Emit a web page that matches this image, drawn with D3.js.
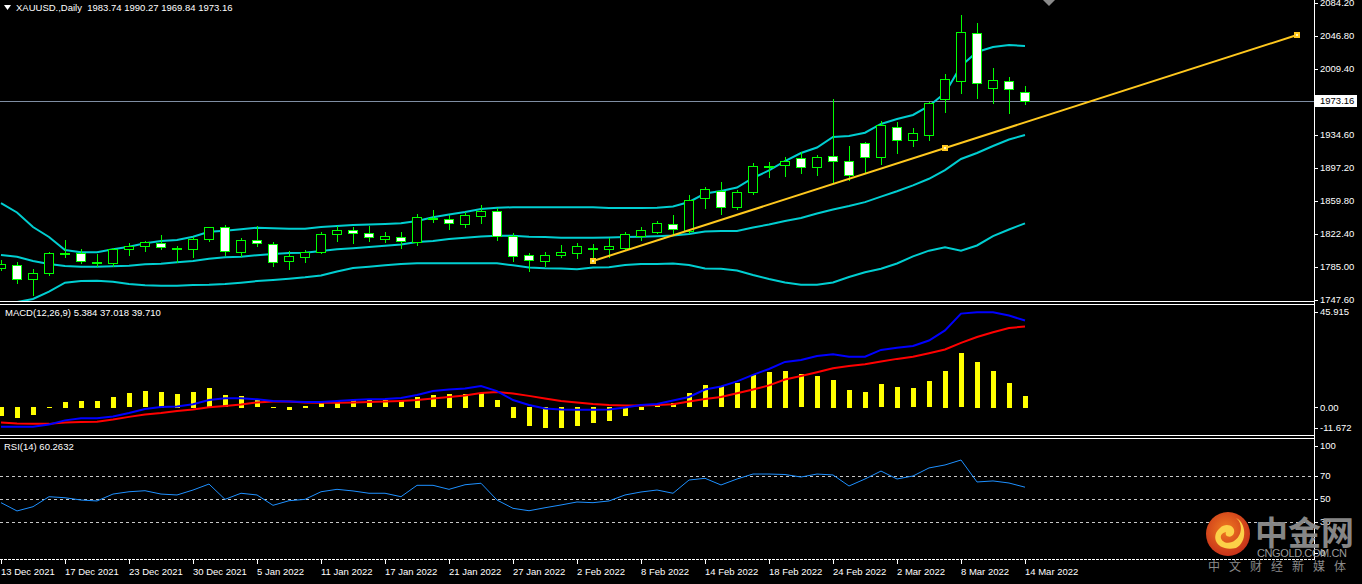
<!DOCTYPE html>
<html><head><meta charset="utf-8">
<script src="https://cdn.jsdelivr.net/npm/d3@7"></script>
<style>
html,body{margin:0;padding:0;background:#000;overflow:hidden}
svg{display:block}
text{font-family:"Liberation Sans",Arial,sans-serif;font-size:9.5px;fill:#fff;white-space:pre}
</style></head><body>
<svg id="chart" width="1362" height="584"></svg>
<script>
// ---------------- DATA ----------------
const titleText = "XAUUSD.,Daily  1983.74 1990.27 1969.84 1973.16";
const macdTitle = "MACD(12,26,9) 5.384 37.018 39.710";
const rsiTitle = "RSI(14) 60.2632";

const dateLabels = ["13 Dec 2021","17 Dec 2021","23 Dec 2021","30 Dec 2021","5 Jan 2022","11 Jan 2022","17 Jan 2022","21 Jan 2022","27 Jan 2022","2 Feb 2022","8 Feb 2022","14 Feb 2022","18 Feb 2022","24 Feb 2022","2 Mar 2022","8 Mar 2022","14 Mar 2022"];
const dateLabelBars = [0,4,8,12,16,20,24,28,32,36,40,44,48,52,56,60,64];

const open  = [1783.5,1786.9,1771.1,1777.9,1800.0,1801.2,1790.5,1789.2,1805.1,1808.5,1811.9,1805.4,1805.1,1816.4,1830.0,1801.7,1815.3,1810.7,1791.5,1796.0,1801.7,1822.1,1826.6,1823.5,1817.1,1819.0,1813.0,1839.7,1839.4,1834.1,1843.1,1848.5,1820.1,1798.3,1791.5,1798.3,1801.2,1806.0,1805.1,1806.9,1820.5,1825.0,1833.4,1826.1,1862.9,1871.5,1853.3,1870.3,1898.3,1900.9,1908.2,1898.7,1910.5,1904.8,1925.2,1909.3,1943.3,1929.3,1935.0,1975.7,1996.1,2050.2,1988.2,1996.1,1983.74];
const high  = [1792.9,1790.7,1782.4,1802.4,1815.6,1805.1,1799.7,1806.2,1812.6,1814.8,1821.1,1808.8,1818.7,1830.7,1832.6,1817.9,1831.5,1813.3,1803.5,1804.3,1824.3,1831.8,1830.7,1831.5,1824.7,1824.7,1845.1,1849.6,1843.9,1847.0,1855.3,1851.5,1823.2,1800.5,1802.0,1810.0,1812.5,1811.1,1817.5,1824.3,1830.7,1837.5,1843.9,1866.6,1876.0,1881.3,1872.3,1902.5,1904.3,1910.0,1915.0,1911.9,1975.4,1922.1,1927.0,1950.8,1949.0,1942.2,1972.0,2003.7,2070.6,2061.5,2010.2,2000.0,1990.27];
const low   = [1781.6,1767.2,1753.3,1775.9,1796.7,1789.2,1786.1,1786.1,1798.6,1803.5,1805.4,1791.0,1796.7,1814.8,1798.6,1797.5,1809.1,1786.5,1783.1,1791.0,1800.5,1814.5,1812.5,1814.5,1813.3,1806.5,1809.6,1836.4,1828.1,1830.7,1835.2,1815.6,1792.1,1780.8,1786.1,1796.7,1795.5,1792.9,1796.0,1804.3,1815.6,1823.5,1821.3,1823.2,1851.5,1845.1,1850.4,1867.7,1887.4,1888.1,1891.9,1889.3,1879.9,1883.6,1891.2,1901.7,1914.5,1922.1,1928.9,1961.0,1981.9,1976.2,1971.2,1959.2,1969.84];
const close = [1788.4,1771.1,1777.9,1800.5,1800.6,1791.5,1790.9,1805.1,1808.8,1813.0,1807.3,1806.0,1816.4,1830.0,1802.8,1815.3,1811.9,1790.3,1797.1,1802.4,1822.1,1826.9,1823.2,1818.7,1820.1,1814.8,1841.7,1840.5,1835.2,1843.9,1848.5,1820.5,1797.8,1792.6,1798.3,1802.0,1808.8,1806.6,1808.8,1822.4,1826.9,1834.9,1827.7,1860.9,1873.1,1853.3,1869.7,1899.5,1899.6,1905.1,1898.7,1909.3,1904.8,1888.9,1909.3,1946.0,1928.6,1936.5,1970.5,1997.7,2051.3,1993.2,1996.9,1986.4,1973.16];

const bbUpper  = [1857.5,1846.8,1830.3,1819.0,1804.3,1801.7,1801.7,1805.1,1808.0,1811.9,1814.5,1815.6,1819.3,1825.0,1826.1,1827.7,1829.5,1828.9,1828.4,1828.4,1830.3,1831.5,1832.6,1833.2,1833.7,1834.5,1837.1,1841.3,1844.5,1847.3,1850.7,1852.2,1852.7,1852.7,1852.7,1852.7,1852.7,1852.7,1851.9,1851.9,1851.9,1852.2,1853.6,1858.7,1868.3,1871.1,1875.1,1885.9,1894.4,1905.1,1914.2,1920.4,1932.3,1933.5,1937.2,1947.1,1952.7,1957.3,1967.5,1982.2,2012.8,2028.7,2034.3,2036.6,2035.5];
const bbMiddle = [1798.6,1796.7,1791.8,1788.4,1786.1,1785.3,1785.3,1785.8,1786.5,1788.1,1788.7,1790.3,1791.8,1794.4,1796.0,1796.7,1798.3,1799.7,1800.9,1801.2,1803.1,1805.1,1806.2,1807.7,1809.1,1810.5,1813.3,1814.5,1816.7,1818.2,1819.6,1820.5,1820.5,1819.3,1819.0,1818.2,1818.2,1818.2,1818.4,1819.0,1819.3,1819.8,1820.7,1822.4,1825.2,1825.8,1825.8,1829.8,1833.2,1837.1,1840.5,1845.6,1850.2,1854.1,1858.5,1864.8,1870.9,1877.5,1885.0,1894.9,1907.4,1914.2,1922.1,1929.5,1934.6];
const bbLower  = [1739.7,1745.3,1748.7,1757.0,1767.2,1769.1,1769.5,1768.3,1765.7,1764.3,1763.8,1763.8,1764.6,1764.9,1765.7,1767.2,1769.1,1770.3,1771.7,1773.3,1775.4,1779.9,1783.9,1785.3,1786.9,1788.4,1789.2,1789.2,1789.2,1789.2,1789.2,1789.2,1786.9,1784.4,1783.5,1783.3,1782.4,1784.4,1784.7,1787.3,1788.4,1788.4,1789.0,1787.3,1783.3,1783.1,1781.0,1775.9,1771.4,1767.4,1764.9,1764.9,1767.4,1773.7,1779.0,1783.0,1789.0,1797.0,1803.5,1807.3,1803.5,1809.4,1820.1,1827.5,1834.5];

const trendBars = [37, 81];
const trendPrices = [1791.8, 2047.9];
const lastPrice = 1973.16;

const priceTicks = [2084.20,2046.80,2009.40,1934.60,1897.20,1859.80,1822.40,1785.00,1747.60];

const macdHist = [-4.2,-4.8,-3.8,0.4,2.7,3.1,3.1,4.8,6.5,7.5,7.1,6.2,7.1,8.9,5.7,5.3,3.7,0.4,-1.5,0.7,2.5,3.0,3.4,3.4,3.4,3.4,4.8,5.7,6.2,6.2,6.6,3.4,-4.8,-8.5,-9.8,-9.8,-8.9,-7.5,-6.6,-3.9,-1.2,1.1,2.0,6.5,10.1,9.8,11.2,14.9,16.4,16.7,15.3,14.4,12.6,8.0,7.1,10.7,9.4,8.9,12.1,16.7,24.9,20.8,16.7,11.2,5.384];
const macdDif  = [-8.8,-8.8,-8.8,-7.8,-5.9,-4.9,-4.9,-4.1,-2.5,-0.7,0.2,0.4,1.5,3.4,4.2,4.2,3.7,3.0,2.7,2.5,2.5,3.0,3.4,3.7,3.9,4.3,5.7,7.5,8.2,8.7,9.8,7.5,3.4,1.1,-0.5,-0.9,-1.1,-1.1,-0.9,0.0,1.1,1.6,3.2,4.8,8.2,9.6,11.9,14.9,17.6,20.8,21.7,23.5,24.3,23.2,23.2,26.3,27.3,28.1,30.6,35.2,42.9,43.5,43.5,42.0,39.710];
const macdDea  = [-6.9,-7.3,-7.5,-7.5,-6.9,-6.6,-6.5,-5.5,-4.3,-3.2,-2.5,-1.6,-0.9,0.1,0.7,1.4,2.3,2.7,2.7,2.3,2.1,2.1,2.3,2.5,2.7,3.0,3.4,4.1,4.8,5.5,6.6,7.1,6.4,5.3,4.1,3.0,2.3,1.6,1.1,0.9,0.9,1.1,1.5,2.7,3.9,4.8,6.5,8.2,10.1,12.8,14.4,16.1,17.9,18.9,19.8,21.0,22.2,23.2,24.8,26.5,29.5,32.2,34.4,36.3,37.018];
const macdTicks = [45.915, 0, -11.672];
const macdTickLabels = ["45.915", "0.00", "-11.672"];

const rsi = [46.8,39.6,43.3,52.0,51.1,49.1,48.3,54.3,56.3,57.2,54.3,53.5,57.8,63.0,49.7,55.0,53.5,44.5,48.5,49.7,56.3,58.4,57.0,55.0,55.0,52.0,61.9,61.9,58.4,62.4,63.7,49.1,41.9,39.8,42.4,44.8,47.4,46.8,48.3,53.5,56.1,57.8,55.0,66.5,68.0,62.2,67.4,71.7,71.7,71.3,69.1,71.7,70.9,61.3,67.4,74.3,67.4,70.0,77.0,79.6,83.9,64.8,65.7,63.9,60.2632];
const rsiLevels = [70, 50, 30];
const rsiTicks = [100, 70, 50, 30, 0];

// ---------------- LAYOUT ----------------
const svg = d3.select("#chart");
const W = 1314;
const P1 = {top: 0, bottom: 301};
const P2 = {top: 305, bottom: 435};
const P3 = {top: 439, bottom: 559};
const GREEN = "#00ff00", BAND = "#00ced1", TREND = "#ffc81e";

const x = d3.scaleLinear().domain([0, 82]).range([1, 1313]);
const yP = d3.scaleLinear().domain([1747.6, 2084.2]).range([300, 3]);
const yM = d3.scaleLinear().domain([-11.672, 45.915]).range([433, 307]);
const yR = d3.scaleLinear().domain([0, 100]).range([556.5, 441.5]);
const cx = i => Math.round(x(i));

svg.append("rect").attr("width",1362).attr("height",584).attr("fill","#000");

const defs = svg.append("defs");
[["c1",P1],["c2",P2],["c3",P3]].forEach(([id,p])=>{
  defs.append("clipPath").attr("id",id).append("rect")
    .attr("x",0).attr("y",p.top).attr("width",W).attr("height",p.bottom-p.top);
});

// ---------------- PANEL 1 ----------------
const g1 = svg.append("g").attr("clip-path","url(#c1)");
// last price line
g1.append("line").attr("x1",0).attr("x2",W).attr("y1",Math.round(yP(lastPrice))+0.5).attr("y2",Math.round(yP(lastPrice))+0.5)
  .attr("stroke","#7f8ea3").attr("stroke-width",1);

// Bollinger bands
const bandLine = d3.line().x((d,i)=>cx(i)).y(d=>yP(d));
[bbUpper, bbMiddle, bbLower].forEach(arr=>{
  g1.append("path").attr("d",bandLine(arr)).attr("fill","none").attr("stroke",BAND).attr("stroke-width",2);
});

// candles
const idx = d3.range(close.length);
const cg = g1.append("g");
idx.forEach(i=>{
  const c = cx(i);
  cg.append("line").attr("x1",c+0.5).attr("x2",c+0.5)
    .attr("y1",Math.round(yP(high[i]))).attr("y2",Math.round(yP(low[i]))+1)
    .attr("stroke",GREEN).attr("stroke-width",1);
  const yo = Math.round(yP(open[i])), yc = Math.round(yP(close[i]));
  const top = Math.min(yo,yc), h = Math.max(Math.abs(yo-yc),1);
  const bull = close[i] >= open[i];
  cg.append("rect").attr("x",c-4.5).attr("y",top+0.5).attr("width",9).attr("height",h)
    .attr("fill", bull ? "#000" : "#fff").attr("stroke",GREEN).attr("stroke-width",1);
});

// trend line
const tLine = d3.line().x(d=>x(d[0])).y(d=>yP(d[1]));
const tPts = trendBars.map((b,k)=>[b,trendPrices[k]]);
g1.append("path").attr("d",tLine(tPts)).attr("stroke",TREND).attr("stroke-width",2).attr("fill","none");
const midPt = [(trendBars[0]+trendBars[1])/2,(trendPrices[0]+trendPrices[1])/2];
[tPts[0], midPt, tPts[1]].forEach(p=>{
  const px = Math.round(x(p[0])), py = Math.round(yP(p[1]));
  g1.append("rect").attr("x",px-3).attr("y",py-3).attr("width",6).attr("height",6).attr("fill",TREND);
  g1.append("rect").attr("x",px-1).attr("y",py-1).attr("width",2).attr("height",2).attr("fill","#fff4c0");
});

// title
svg.append("path").attr("d","M4,5 L11,5 L7.5,10 Z").attr("fill","#fff");
svg.append("text").attr("x",16).attr("y",11).text(titleText);
// shift marker
svg.append("path").attr("d","M1043,0 L1055,0 L1049,6 Z").attr("fill","#8a8a8a");

// ---------------- PANEL 2: MACD ----------------
const g2 = svg.append("g").attr("clip-path","url(#c2)");
const y0 = yM(0);
idx.forEach(i=>{
  const yv = yM(macdHist[i]);
  g2.append("rect").attr("x",cx(i)-2).attr("width",5)
    .attr("y",Math.round(Math.min(yv,y0))).attr("height",Math.max(1,Math.round(Math.abs(yv-y0))))
    .attr("fill","#ffff00");
});
const mLine = d3.line().x((d,i)=>cx(i)).y(d=>yM(d));
g2.append("path").attr("d",mLine(macdDea)).attr("fill","none").attr("stroke","#ff0000").attr("stroke-width",2);
g2.append("path").attr("d",mLine(macdDif)).attr("fill","none").attr("stroke","#0000ff").attr("stroke-width",2);
svg.append("text").attr("x",5).attr("y",316).text(macdTitle);

// ---------------- PANEL 3: RSI ----------------
const g3 = svg.append("g").attr("clip-path","url(#c3)");
rsiLevels.forEach(v=>{
  g3.append("line").attr("x1",0).attr("x2",W).attr("y1",Math.round(yR(v))+0.5).attr("y2",Math.round(yR(v))+0.5)
    .attr("stroke","#c8c8c8").attr("stroke-dasharray","3,3").attr("stroke-width",1);
});
g3.append("path").attr("d",d3.line().x((d,i)=>cx(i)).y(d=>yR(d))(rsi))
  .attr("fill","none").attr("stroke","#1e90ff").attr("stroke-width",1);
svg.append("text").attr("x",4).attr("y",450).text(rsiTitle);

// ---------------- FRAMES ----------------
const frame = svg.append("g").attr("stroke","#fff").attr("stroke-width",1);
[301.5,304.5,435.5,438.5].forEach(yy=>frame.append("line").attr("x1",0).attr("x2",W+1).attr("y1",yy).attr("y2",yy));
frame.append("line").attr("x1",W+0.5).attr("x2",W+0.5).attr("y1",0).attr("y2",560);
frame.append("line").attr("x1",0).attr("x2",W+1).attr("y1",559.5).attr("y2",559.5).attr("stroke-dasharray","3,1");

// ---------------- AXES ----------------
const axP = svg.append("g");
priceTicks.forEach(v=>{
  const yy = Math.round(yP(v));
  axP.append("line").attr("x1",W).attr("x2",W+4).attr("y1",yy+0.5).attr("y2",yy+0.5).attr("stroke","#fff");
  axP.append("text").attr("x",1320).attr("y",yy).attr("dy","0.35em").text(v.toFixed(2));
});
const ly = Math.round(yP(lastPrice));
axP.append("rect").attr("x",1315).attr("y",ly-6).attr("width",42).attr("height",12).attr("fill","#fff");
axP.append("text").attr("x",1320).attr("y",ly).attr("dy","0.35em").style("fill","#000").text(lastPrice.toFixed(2));

macdTicks.forEach((v,k)=>{
  const yy = Math.max(P2.top+7, Math.min(P2.bottom-7, yM(v)));
  axP.append("line").attr("x1",W).attr("x2",W+4).attr("y1",Math.round(yy)+0.5).attr("y2",Math.round(yy)+0.5).attr("stroke","#fff");
  axP.append("text").attr("x",1320).attr("y",yy).attr("dy","0.35em").text(macdTickLabels[k]);
});
rsiTicks.forEach(v=>{
  const yy = Math.max(P3.top+7, Math.min(P3.bottom-6, yR(v)));
  axP.append("line").attr("x1",W).attr("x2",W+4).attr("y1",Math.round(yy)+0.5).attr("y2",Math.round(yy)+0.5).attr("stroke","#fff");
  axP.append("text").attr("x",1320).attr("y",yy).attr("dy","0.35em").text(String(v));
});

const axX = svg.append("g");
dateLabelBars.forEach((b,k)=>{
  const xx = cx(b);
  axX.append("line").attr("x1",xx+0.5).attr("x2",xx+0.5).attr("y1",560).attr("y2",564).attr("stroke","#fff");
  axX.append("text").attr("x",xx).attr("y",575).text(dateLabels[k]);
});

// ---------------- WATERMARK ----------------
const wm = svg.append("g");
const grad = defs.append("radialGradient").attr("id","lg").attr("cx","45%").attr("cy","40%").attr("r","60%");
grad.append("stop").attr("offset","0%").attr("stop-color","#f07a20");
grad.append("stop").attr("offset","100%").attr("stop-color","#c8321a");
wm.append("circle").attr("cx",1228).attr("cy",534).attr("r",22).attr("fill","url(#lg)");
wm.append("path").attr("d","M1236,548 C1216,552 1210,536 1220,528 C1226,522 1236,526 1234,533 C1232,539 1224,537 1226,532 C1216,534 1222,546 1232,542 C1242,538 1244,524 1236,518 C1246,522 1248,542 1236,548 Z")
  .attr("fill","#fcd048");
wm.append("text").attr("x",1255).attr("y",545).style("font-size","33px").style("font-weight","bold")
  .style("font-family","'Noto Sans CJK SC',sans-serif").style("fill","#8e8e8e").attr("opacity",0.95).text("中金网");
wm.append("text").attr("x",1257).attr("y",557).style("font-size","11px").style("fill","#9a9a9a").attr("textLength",90).text("CNGOLD.COM.CN");
wm.append("text").attr("x",1208).attr("y",571).style("font-size","12px").style("font-family","'Noto Sans CJK SC',sans-serif")
  .style("fill","#8a8a8a").attr("textLength",138).text("中文财经新媒体");
</script>
</body></html>
